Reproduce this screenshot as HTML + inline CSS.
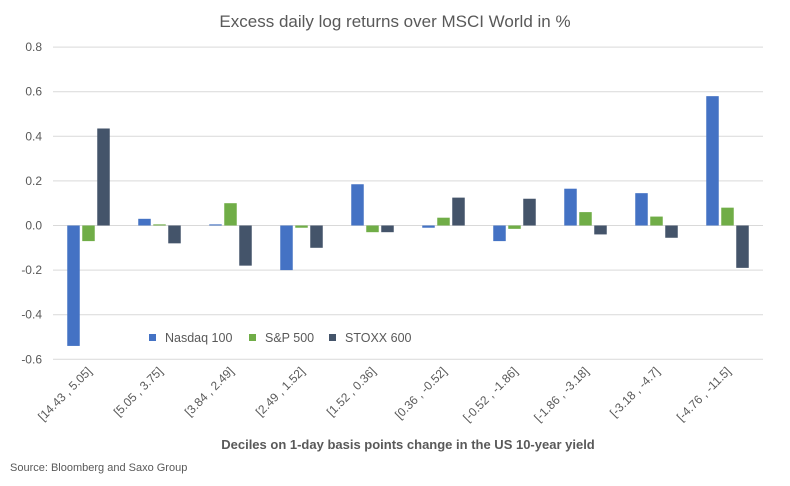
<!DOCTYPE html>
<html><head><meta charset="utf-8"><style>
body{margin:0;background:#fff;font-family:"Liberation Sans",sans-serif}
</style></head><body>
<svg id="chart" width="790" height="481" viewBox="0 0 790 481" xmlns="http://www.w3.org/2000/svg">
<text x="395" y="27" text-anchor="middle" font-size="17" fill="#595959">Excess daily log returns over MSCI World in %</text>
<g id="grid"></g><g id="bars"></g><g id="xlabels"></g>
<g>
<g><rect x="149" y="334" width="7" height="7" fill="#4472C4"/><text x="165" y="342" font-size="12.5" fill="#595959">Nasdaq 100</text></g>
<g><rect x="249" y="334" width="7" height="7" fill="#70AD47"/><text x="265" y="342" font-size="12.5" fill="#595959">S&amp;P 500</text></g>
<g><rect x="329" y="334" width="7" height="7" fill="#44546A"/><text x="345" y="342" font-size="12.5" fill="#595959">STOXX 600</text></g>
</g>
<text x="408" y="449" text-anchor="middle" font-size="13" font-weight="bold" fill="#595959">Deciles on 1-day basis points change in the US 10-year yield</text>
<text x="10" y="471" font-size="11" fill="#595959">Source: Bloomberg and Saxo Group</text>
</svg>
<script>
const categories=["[14.43 , 5.05]","[5.05 , 3.75]","[3.84 , 2.49]","[2.49 , 1.52]","[1.52 , 0.36]","[0.36 , -0.52]","[-0.52 , -1.86]","[-1.86 , -3.18]","[-3.18 , -4.7]","[-4.76 , -11.5]"];
const nasdaq=[-0.54,0.03,0.005,-0.20,0.185,-0.01,-0.07,0.165,0.145,0.58];
const sp500=[-0.07,0.005,0.10,-0.01,-0.03,0.035,-0.015,0.06,0.04,0.08];
const stoxx=[0.435,-0.08,-0.18,-0.10,-0.03,0.125,0.12,-0.04,-0.055,-0.19];
const yTicks=[0.8,0.6,0.4,0.2,0.0,-0.2,-0.4,-0.6];
const NS="http://www.w3.org/2000/svg";
const left=53,right=763,y0=225.5,pxPer=223;
const y=v=>y0-v*pxPer;
const band=(right-left)/categories.length;
const grid=document.getElementById('grid');
yTicks.forEach(t=>{
 const l=document.createElementNS(NS,'line');
 l.setAttribute('x1',left);l.setAttribute('x2',right);l.setAttribute('y1',y(t));l.setAttribute('y2',y(t));
 l.setAttribute('stroke','#d9d9d9');l.setAttribute('stroke-width','1');
 
 
 grid.appendChild(l);
 const tx=document.createElementNS(NS,'text');
 tx.setAttribute('x',42);tx.setAttribute('y',y(t)+4);tx.setAttribute('text-anchor','end');
 tx.setAttribute('font-size','12');tx.setAttribute('fill','#595959');
 tx.textContent=t.toFixed(1);
 
 
 grid.appendChild(tx);
});
const series=[[nasdaq,'#4472C4','nasdaq'],[sp500,'#70AD47','sp500'],[stoxx,'#44546A','stoxx']];
const bars=document.getElementById('bars');
const bw=12.5,gap=2.5;
categories.forEach((c,i)=>{
 const cx=left+band*(i+0.5);
 series.forEach((s,j)=>{
  const v=s[0][i];
  const r=document.createElementNS(NS,'rect');
  const x=cx-1.5*bw-gap+j*(bw+gap);
  r.setAttribute('x',x);r.setAttribute('width',bw);
  r.setAttribute('y',Math.min(y(v),y0));r.setAttribute('height',Math.abs(y(v)-y0));
  r.setAttribute('fill',s[1]);
  
  
  bars.appendChild(r);
 });
 const t=document.createElementNS(NS,'text');
 const lx=cx+4,ly=372;
 t.setAttribute('x',lx);t.setAttribute('y',ly);t.setAttribute('text-anchor','end');
 t.setAttribute('transform','rotate(-45 '+lx+' '+ly+')');
 t.setAttribute('font-size','12');t.setAttribute('fill','#595959');
 t.textContent=c;
 
 
 document.getElementById('xlabels').appendChild(t);
});
</script>
</body></html>
